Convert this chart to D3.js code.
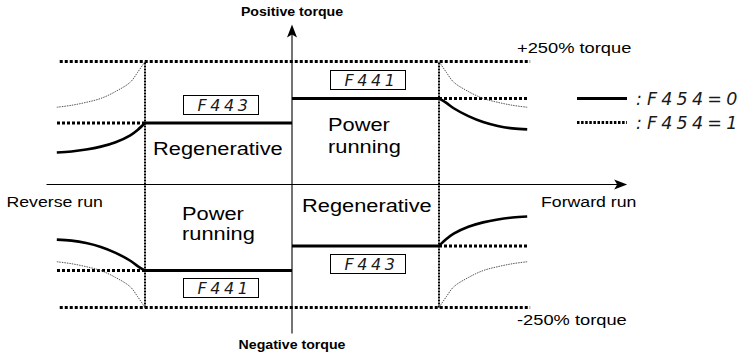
<!DOCTYPE html>
<html>
<head>
<meta charset="utf-8">
<script src="https://cdn.jsdelivr.net/npm/d3@7/dist/d3.min.js"></script>
<style>
  html, body { margin: 0; padding: 0; background: #fff; }
  svg { display: block; }
  .lbl { font-family: "Liberation Sans", Arial, Helvetica, sans-serif; fill: #000; }
  .seg { font-family: "DejaVu Sans", sans-serif; font-weight: 200; font-style: italic; fill: #1a1a1a; }
</style>
</head>
<body>
<svg id="chart" width="742" height="358"></svg>
<script>
// Torque limit characteristics in the four operating quadrants.
// Speed is given per unit of base speed, torque in % of rated torque.

const maxTorque = 250;                               // +/-250% torque limit
const paramCodes = ["F441", "F443"];                 // power running / regenerative limit parameters
const paramLimits = [175, 125];                      // % torque set by F441, F443

// Constant-output region above base speed (F454=0 : solid, F454=1 : thin dotted)
const fieldSpeed = [1.0, 1.05, 1.1, 1.2, 1.3, 1.4, 1.5, 1.6];
const curveF441 = [175, 166, 155, 139, 127, 119, 114, 112];
const curveF443 = [125, 111, 100, 86, 77, 71, 67, 65];
const curveMax  = [250, 228, 208, 189, 175, 167, 161, 157];

const speedExtent = 1.6;                              // right/left end of the plotted speed range
const axisTitles = ["Positive torque", "Negative torque"];
const runLabels = ["Reverse run", "Forward run"];
const limitLabels = ["+250% torque", "-250% torque"];
const modeLabels = ["Regenerative", "Power running"];
const legendLabels = ["F454=0", "F454=1"];

const svg = d3.select("#chart");

const x = d3.scaleLinear().domain([-1, 1]).range([145, 439]);
const y = d3.scaleLinear().domain([-maxTorque, maxTorque]).range([307.5, 61.5]);

const line = d3.line().x(d => x(d[0])).y(d => y(d[1]));
const smooth = d3.line().x(d => x(d[0])).y(d => y(d[1])).curve(d3.curveCatmullRom.alpha(0.5));

// ----- axes -----
const xAxisEnds = [-1.67, 2.28];
const yAxisEnds = [-303, 325];
const axes = svg.append("g").attr("stroke", "#000").attr("stroke-width", 1.1);
axes.append("line")
  .attr("x1", x(xAxisEnds[0])).attr("x2", x(xAxisEnds[1]) - 6)
  .attr("y1", y(0)).attr("y2", y(0));
axes.append("line")
  .attr("x1", x(0)).attr("x2", x(0))
  .attr("y1", y(yAxisEnds[0])).attr("y2", y(yAxisEnds[1]) + 6);
// arrow heads
svg.append("path")
  .attr("d", "M0,0 L-13,-5 L-10,0 L-13,5 Z")
  .attr("transform", `translate(${x(xAxisEnds[1])},${y(0)})`)
  .attr("fill", "#000");
svg.append("path")
  .attr("d", "M0,0 L-5,13 L0,10 L5,13 Z")
  .attr("transform", `translate(${x(0)},${y(yAxisEnds[1])})`)
  .attr("fill", "#000");

// ----- +/-250% limits and base-speed boundaries -----
const dotted = svg.append("g").attr("fill", "none").attr("stroke", "#000");
[maxTorque, -maxTorque].forEach(t => {
  dotted.append("path")
    .attr("d", line([[-speedExtent + 0.02, t], [speedExtent + 0.02, t]]))
    .attr("stroke-width", 3).attr("stroke-dasharray", "3,2");
});
[-1, 1].forEach(s => {
  dotted.append("path")
    .attr("d", line([[s, -maxTorque], [s, maxTorque]]))
    .attr("stroke-width", 2).attr("stroke-dasharray", "2,1");
});

// Quadrants: [speed sign, torque sign, flat limit index]
const quadrants = [
  [ 1,  1, 0],   // forward, power running : F441
  [ 1, -1, 1],   // forward, regenerative  : F443
  [-1,  1, 1],   // reverse, regenerative  : F443
  [-1, -1, 0]    // reverse, power running : F441
];
const curves = [curveF441, curveF443];

quadrants.forEach(([ss, ts, k]) => {
  const lim = paramLimits[k] * ts;
  // flat limit up to base speed
  svg.append("path")
    .attr("d", line([[0, lim], [ss, lim]]))
    .attr("fill", "none").attr("stroke", "#000").attr("stroke-width", 3);
  // flat limit continued beyond base speed (dotted)
  svg.append("path")
    .attr("d", line([[ss, lim], [ss * speedExtent, lim]]))
    .attr("fill", "none").attr("stroke", "#000")
    .attr("stroke-width", 3).attr("stroke-dasharray", "3,2");
  // F454=0 : reduced limit above base speed
  const pts = fieldSpeed.map((s, i) => [ss * s, ts * curves[k][i]]);
  svg.append("path")
    .attr("d", smooth(pts))
    .attr("fill", "none").attr("stroke", "#000").attr("stroke-width", 2.6);
  // F454=1 : limit from 250% above base speed
  const pm = fieldSpeed.map((s, i) => [ss * s, ts * curveMax[i]]);
  svg.append("path")
    .attr("d", smooth(pm))
    .attr("fill", "none").attr("stroke", "#555").attr("stroke-width", 1)
    .attr("stroke-dasharray", "1.5,1");

  // parameter box over / under the flat line
  const bw = 75, bh = 19;
  const cx = x(ss * 0.5) + 2;
  const by = Math.round(ts > 0 ? y(lim) - 9.5 - bh : y(lim) + 7.5) + 0.5;
  const box = svg.append("g").attr("transform", `translate(${Math.round(cx - bw / 2) + 0.5},${by})`);
  box.append("rect").attr("width", bw).attr("height", bh)
    .attr("fill", "#fff").attr("stroke", "#000").attr("stroke-width", 1);
  box.append("text").attr("class", "seg")
    .attr("x", 14).attr("y", bh - 3.5)
    .attr("font-size", 16).attr("letter-spacing", 3.6)
    .text(paramCodes[k]);
});

// ----- labels (set in a slightly widened face) -----
const WIDE = 1.18;
function label(txt, px, py, size, anchor, bold) {
  const g = svg.append("g").attr("transform", `translate(${px},${py}) scale(${WIDE},1)`);
  g.append("text").attr("class", "lbl")
    .attr("font-size", size)
    .attr("font-weight", bold ? "bold" : "normal")
    .attr("text-anchor", anchor || "start")
    .text(txt);
  return g;
}

label(axisTitles[0], x(0), 16, 12, "middle", true);
label(axisTitles[1], x(0), 349, 12, "middle", true);
label(runLabels[0], 6.5, 207, 15);
label(runLabels[1], 541, 207, 15);
label(limitLabels[0], 517, 53, 15.5);
label(limitLabels[1], 517, 325, 15.5);

// operating mode names
const [modeRegen, modePower] = modeLabels;
const powerWords = modePower.split(" ");
label(modeRegen, 153, 155, 18.5);
label(modeRegen, 302, 212, 18.5);
label(powerWords[0], 328, 131, 18.5);
label(powerWords[1], 328, 153, 18.5);
label(powerWords[0], 182, 220, 18.5);
label(powerWords[1], 182, 240, 18.5);

// ----- legend -----
const legend = svg.append("g");
const legendRows = [98.5, 122.5];
legendRows.forEach((ly, i) => {
  legend.append("line")
    .attr("x1", 577).attr("x2", 627).attr("y1", ly).attr("y2", ly)
    .attr("stroke", "#000").attr("stroke-width", 3)
    .attr("stroke-dasharray", i === 0 ? null : "2.5,1.6");
  const t = legend.append("text").attr("class", "seg")
    .attr("x", 636).attr("y", ly + 6).attr("font-size", 17.5);
  t.append("tspan").text(":");
  t.append("tspan").attr("x", 647).attr("letter-spacing", 4.2).text(legendLabels[i]);
});
</script>
</body>
</html>
